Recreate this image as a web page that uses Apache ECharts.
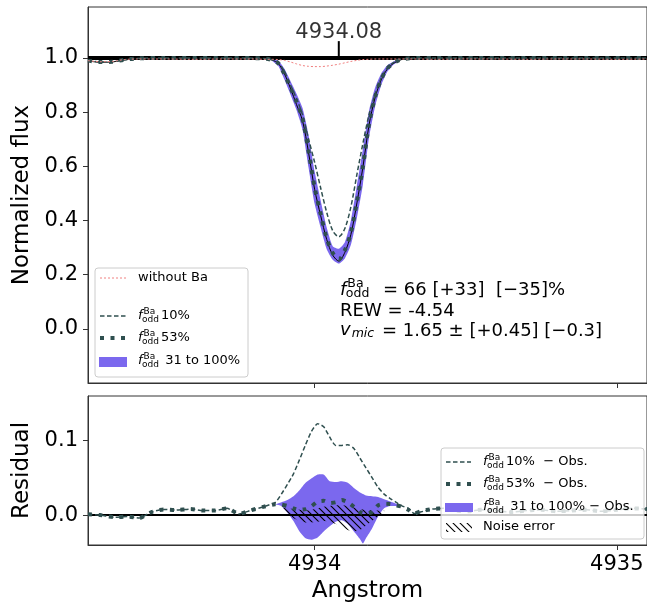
<!DOCTYPE html>
<html><head><meta charset="utf-8">
<script src="https://cdn.jsdelivr.net/npm/echarts@6/dist/echarts.min.js"></script>
<style>html,body{margin:0;padding:0;background:#fff}#c{width:647px;height:606px}</style>
</head><body><div id="c"></div>
<script>
// ---------------- data ----------------
const xRange = [4933.25, 4935.10];
const xTicks = [4934, 4935];
const fluxRange = [-0.2, 1.188];
const fluxTicks = [0, 0.2, 0.4, 0.6, 0.8, 1.0];
const residRange = [-0.04, 0.159];
const residTicks = [0, 0.1];
const continuumLevel = 1.0;
const lineCenter = 4934.08;
const lineCenterLabel = '4934.08';
const markerTick = [1.0, 1.062];
const markerLabelY = 1.094;

const lamTop = [4933.25,4933.29,4933.33,4933.37,4933.41,4933.50,4933.60,4933.70,4933.80,4933.84,
  4933.86,4933.88,4933.90,4933.92,4933.94,4933.96,4933.98,4934.00,4934.02,4934.04,4934.06,
  4934.08,4934.10,4934.12,4934.14,4934.16,4934.18,4934.20,4934.22,4934.24,4934.26,4934.28,
  4934.30,4934.34,4934.40,4934.50,4934.60,4934.70,4934.80,4934.90,4935.00,4935.10];
const obsFlux = [0.989,0.984,0.985,0.992,0.998,0.999,1.001,0.999,0.998,0.996,
  0.992,0.979,0.942,0.888,0.828,0.768,0.650,0.515,0.418,0.330,0.272,
  0.250,0.282,0.348,0.465,0.598,0.752,0.853,0.918,0.958,0.979,0.991,
  0.997,0.999,1.000,1.001,0.999,1.000,1.001,0.999,1.000,1.000];
const f10Flux = [0.990,0.985,0.986,0.993,0.998,1.000,1.000,1.000,0.999,0.997,
  0.993,0.982,0.950,0.900,0.850,0.790,0.700,0.615,0.520,0.430,0.362,
  0.340,0.370,0.450,0.570,0.685,0.790,0.865,0.925,0.962,0.982,0.993,
  0.997,1.000,1.000,1.000,1.000,1.000,1.000,1.000,1.000,1.000];
const f53Flux = [0.990,0.985,0.986,0.993,0.998,1.000,1.000,1.000,0.999,0.997,
  0.992,0.980,0.940,0.890,0.838,0.775,0.655,0.522,0.424,0.334,0.280,
  0.256,0.290,0.355,0.470,0.600,0.755,0.855,0.920,0.960,0.980,0.992,
  0.997,1.000,1.000,1.000,1.000,1.000,1.000,1.000,1.000,1.000];
const noBaFlux = [0.990,0.986,0.987,0.994,0.996,0.996,0.995,0.996,0.996,0.995,
  0.995,0.994,0.991,0.985,0.978,0.972,0.969,0.968,0.968,0.970,0.973,
  0.977,0.982,0.987,0.991,0.994,0.995,0.996,0.996,0.996,0.996,0.996,
  0.996,0.996,0.995,0.996,0.996,0.995,0.996,0.996,0.995,0.996];

const bandLam = [4933.86,4933.88,4933.90,4933.92,4933.94,4933.96,4933.98,4934.00,4934.02,4934.04,4934.06,
  4934.08,4934.10,4934.12,4934.14,4934.16,4934.18,4934.20,4934.22,4934.24,4934.26,4934.28];
const band31Flux = [0.995,0.990,0.960,0.915,0.868,0.815,0.715,0.582,0.474,0.374,0.305,
  0.296,0.320,0.400,0.530,0.665,0.805,0.890,0.942,0.972,0.986,0.994];
const band100Flux = [0.989,0.970,0.920,0.865,0.808,0.735,0.595,0.462,0.374,0.294,0.255,
  0.241,0.260,0.310,0.410,0.535,0.705,0.820,0.898,0.948,0.974,0.990];

const resLam = [4933.25,4933.29,4933.34,4933.38,4933.42,4933.46,4933.50,4933.54,4933.59,4933.63,4933.67,4933.71,4933.75,4933.79,4933.83,4933.87,
  4933.89,4933.91,4933.93,4933.95,4933.97,4933.99,4934.01,4934.03,4934.05,4934.07,4934.09,4934.11,4934.13,4934.15,4934.17,4934.19,4934.21,4934.23,4934.25,4934.27,4934.29,4934.31,4934.33,4934.35,
  4934.39,4934.43,4934.47,4934.51,4934.55,4934.60,4934.65,4934.70,4934.75,4934.80,4934.85,4934.90,4934.95,4935.00,4935.05,4935.10];
const res10 = [0.001,0.000,-0.003,-0.002,-0.004,0.004,0.0075,0.0067,0.008,0.006,0.006,0.009,0.0015,0.0065,0.011,0.017,
  0.028,0.041,0.055,0.074,0.094,0.112,0.122,0.118,0.104,0.093,0.093,0.094,0.089,0.076,0.063,0.050,0.037,0.028,0.022,0.017,0.012,0.009,0.002,0.004,
  0.008,0.009,0.006,0.005,0.007,0.006,0.004,0.006,0.007,0.005,0.006,0.007,0.005,0.007,0.009,0.008];
const res53 = [0.001,0.000,-0.003,-0.002,-0.004,0.004,0.0075,0.0067,0.008,0.006,0.006,0.009,0.0015,0.0065,0.011,0.0145,
  0.014,0.012,0.009,0.007,0.008,0.012,0.018,0.019,0.016,0.017,0.020,0.017,0.011,0.004,0.002,0.004,0.013,0.015,0.0147,0.013,0.011,0.007,0.002,0.005,
  0.008,0.009,0.006,0.005,0.007,0.006,0.004,0.006,0.007,0.005,0.006,0.007,0.005,0.007,0.009,0.008];

const resBandLam = [4933.87,4933.89,4933.91,4933.93,4933.95,4933.97,4933.99,4934.01,4934.03,4934.05,4934.07,
  4934.09,4934.11,4934.13,4934.15,4934.16,4934.17,4934.19,4934.21,4934.23,4934.25,4934.27,4934.29];
const resBandUp = [0.014,0.017,0.020,0.025,0.033,0.043,0.049,0.054,0.054,0.045,0.044,
  0.045,0.043,0.036,0.030,0.028,0.026,0.025,0.024,0.021,0.018,0.015,0.012];
const resBandLo = [0.014,0.012,0.003,-0.008,-0.022,-0.031,-0.033,-0.030,-0.022,-0.015,-0.009,
  -0.007,-0.012,-0.022,-0.032,-0.038,-0.031,-0.018,-0.002,0.009,0.012,0.012,0.012];

const noiseLam = [4933.89,4933.91,4933.93,4933.95,4933.97,4933.99,4934.01,4934.03,4934.05,4934.07,4934.09,4934.11,4934.13,4934.15,4934.17,4934.19,4934.21,4934.23];
const noiseUp = [0.010,0.009,0.008,0.007,0.006,0.007,0.009,0.011,0.012,0.013,0.013,0.012,0.010,0.008,0.007,0.006,0.006,0.006];
const noiseLo = [0.010,0.002,-0.004,-0.008,-0.010,-0.010,-0.009,-0.008,-0.009,-0.012,-0.016,-0.020,-0.022,-0.020,-0.014,-0.008,-0.002,0.004];

// ---------------- styling ----------------
const FONT = '"DejaVu Sans", sans-serif';
const SLATE = '#2f4f4f';
const PURPLE = '#7b68ee';
const PINK = '#f08080';
const FRAME = '#333';

const pair = (xs, ys) => xs.map((x, i) => [x, ys[i]]);

const hatchCanvas = document.createElement('canvas');
hatchCanvas.width = 7; hatchCanvas.height = 7;
(function () {
  const c = hatchCanvas.getContext('2d');
  c.strokeStyle = '#000'; c.lineWidth = 1.1;
  c.beginPath();
  c.moveTo(-1, -1); c.lineTo(8, 8);
  c.moveTo(-1, 6); c.lineTo(1, 8);
  c.moveTo(6, -1); c.lineTo(8, 1);
  c.stroke();
})();
const hatchFill = { image: hatchCanvas, repeat: 'repeat' };

const mctx = document.createElement('canvas').getContext('2d');
function tw(text, size, italic) {
  mctx.font = (italic ? 'italic ' : '') + size + 'px "DejaVu Sans"';
  return mctx.measureText(text).width;
}

function lineSeries(name, gi, lam, vals, ls, z, smooth) {
  return {
    type: 'line', name, xAxisIndex: gi, yAxisIndex: gi, data: pair(lam, vals),
    symbol: 'none', showSymbol: false, smooth: smooth, z, animation: false, silent: true,
    lineStyle: Object.assign({ cap: 'butt', join: 'round' }, ls)
  };
}
function bandSeries(name, gi, lam, up, lo, fill, z) {
  return {
    type: 'custom', name, xAxisIndex: gi, yAxisIndex: gi, z, clip: true, silent: true, animation: false,
    data: [[lam[0], up[0]]], encode: { x: 0, y: 1 },
    renderItem(params, api) {
      const pts = [];
      lam.forEach((l, i) => pts.push(api.coord([l, up[i]])));
      for (let i = lam.length - 1; i >= 0; i--) pts.push(api.coord([lam[i], lo[i]]));
      return { type: 'polygon', shape: { points: pts, smooth: 0.2 }, style: { fill: fill, stroke: null } };
    }
  };
}

// ---------- graphic helpers ----------
function T(x, y, text, size, italic, extra) {
  return Object.assign({ type: 'text', x, y, z: 60, silent: true,
    style: { text, fontSize: size, fontFamily: FONT, fontStyle: italic ? 'italic' : 'normal',
      fill: '#000', align: 'left', verticalAlign: 'middle' } }, extra || {});
}
function fodd(x, y, size, sub, supDy, subDy) {
  const fw = tw('f', size, true);
  const els = [T(x, y, 'f', size, true), T(x + fw + 1, y + supDy, 'Ba', sub), T(x + fw - 0.5, y + subDy, 'odd', sub)];
  const end = x + fw + Math.max(tw('Ba', sub) + 1, tw('odd', sub) - 0.5);
  return { els, end };
}
function legLine(x1, x2, y, stroke, width, dash) {
  return { type: 'line', z: 60, silent: true, shape: { x1, y1: y, x2, y2: y },
    style: { stroke, lineWidth: width, lineDash: dash, lineCap: 'butt' } };
}

const graphics = [];
// top legend
graphics.push({ type: 'rect', z: 55, silent: true, shape: { x: 95, y: 268, width: 153, height: 109, r: 3 },
  style: { fill: 'rgba(255,255,255,0.8)', stroke: '#cccccc', lineWidth: 1 } });
graphics.push(legLine(100, 127, 278, PINK, 1, [2, 2]));
graphics.push(T(138, 278, 'without Ba', 13));
graphics.push(legLine(100, 127, 316, SLATE, 1.5, [4.5, 2.5]));
let f = fodd(138, 316, 13, 9, -4, 4); graphics.push(...f.els, T(f.end + 2, 316, '10%', 13));
graphics.push(legLine(100, 127, 338, SLATE, 4, [4, 6.5]));
f = fodd(138, 338, 13, 9, -4, 4); graphics.push(...f.els, T(f.end + 2, 338, '53%', 13));
graphics.push({ type: 'rect', z: 60, silent: true, shape: { x: 99, y: 357, width: 28, height: 10 }, style: { fill: PURPLE } });
f = fodd(138, 361, 13, 9, -4, 4); graphics.push(...f.els, T(f.end + 2, 361, ' 31 to 100%', 13));

// bottom legend
graphics.push({ type: 'rect', z: 55, silent: true, shape: { x: 441, y: 448, width: 203, height: 91, r: 3 },
  style: { fill: 'rgba(255,255,255,0.8)', stroke: '#cccccc', lineWidth: 1 } });
graphics.push(legLine(446, 471, 462, SLATE, 1.5, [4.5, 2.5]));
f = fodd(483, 462, 13, 9, -4, 4); graphics.push(...f.els, T(f.end + 2, 462, '10%  \u2212 Obs.', 13));
graphics.push(legLine(446, 471, 484, SLATE, 4, [4, 6.5]));
f = fodd(483, 484, 13, 9, -4, 4); graphics.push(...f.els, T(f.end + 2, 484, '53%  \u2212 Obs.', 13));
graphics.push({ type: 'rect', z: 60, silent: true, shape: { x: 445, y: 503, width: 28, height: 9 }, style: { fill: PURPLE } });
f = fodd(483, 507, 13, 9, -4, 4); graphics.push(...f.els, T(f.end + 2, 507, ' 31 to 100% \u2212 Obs.', 13));
graphics.push({ type: 'rect', z: 60, silent: true, shape: { x: 446, y: 523, width: 26, height: 9 }, style: { fill: hatchFill } });
graphics.push(T(483, 527, 'Noise error', 13));

// annotation text
f = fodd(340, 290, 18, 12.5, -6.5, 4); graphics.push(...f.els);
graphics.push(T(383, 290, '= 66 [+33]  [\u221235]%', 18));
graphics.push(T(340, 311.5, 'REW = -4.54', 18));
const vw = tw('v', 18, true);
graphics.push(T(340, 330, 'v', 18, true), T(340 + vw + 1, 334, 'mic', 12.5, true));
graphics.push(T(382, 331, '= 1.65 \u00b1 [+0.45] [\u22120.3]', 18));

// ---------------- chart ----------------
const chart = echarts.init(document.getElementById('c'), null, { renderer: 'canvas', width: 647, height: 606 });
const tickLabel = { fontSize: 21, color: '#000', fontFamily: FONT };
const nameStyle = { fontSize: 23, color: '#000', fontFamily: FONT };

chart.setOption({
  animation: false,
  backgroundColor: '#fff',
  grid: [
    { left: 88, top: 7, width: 562, height: 376, show: true, borderColor: FRAME, borderWidth: 1, backgroundColor: 'transparent' },
    { left: 88, top: 396, width: 562, height: 149, show: true, borderColor: FRAME, borderWidth: 1, backgroundColor: 'transparent' }
  ],
  xAxis: [
    { gridIndex: 0, type: 'value', min: xRange[0], max: xRange[1],
      axisLine: { show: true, onZero: false, lineStyle: { color: FRAME } },
      axisTick: { show: true, customValues: xTicks, length: 5, lineStyle: { color: FRAME } },
      axisLabel: { show: false }, splitLine: { show: false } },
    { gridIndex: 1, type: 'value', min: xRange[0], max: xRange[1],
      axisLine: { show: true, onZero: false, lineStyle: { color: FRAME } },
      axisTick: { show: true, customValues: xTicks, length: 5, lineStyle: { color: FRAME } },
      axisLabel: Object.assign({ show: true, customValues: xTicks, margin: 9, formatter: v => String(Math.round(v)) }, tickLabel),
      splitLine: { show: false },
      name: 'Angstrom', nameLocation: 'middle', nameGap: 35, nameTextStyle: nameStyle }
  ],
  yAxis: [
    { gridIndex: 0, type: 'value', min: fluxRange[0], max: fluxRange[1],
      axisLine: { show: true, onZero: false, lineStyle: { color: FRAME } },
      axisTick: { show: true, customValues: fluxTicks, length: 5, lineStyle: { color: FRAME } },
      axisLabel: Object.assign({ customValues: fluxTicks, margin: 10, formatter: v => v.toFixed(1) }, tickLabel),
      splitLine: { show: false },
      name: 'Normalized flux', nameLocation: 'middle', nameGap: 42, nameTextStyle: nameStyle },
    { gridIndex: 1, type: 'value', min: residRange[0], max: residRange[1],
      axisLine: { show: true, onZero: false, lineStyle: { color: FRAME } },
      axisTick: { show: true, customValues: residTicks, length: 5, lineStyle: { color: FRAME } },
      axisLabel: Object.assign({ customValues: residTicks, margin: 10, formatter: v => v.toFixed(1) }, tickLabel),
      splitLine: { show: false },
      name: 'Residual', nameLocation: 'middle', nameGap: 49, nameTextStyle: nameStyle }
  ],
  series: [
    // top panel
    bandSeries('f_odd 31 to 100%', 0, bandLam, band31Flux, band100Flux, PURPLE, 2),
    {
      type: 'line', name: 'continuum', xAxisIndex: 0, yAxisIndex: 0, data: [], z: 3, silent: true,
      markLine: { silent: true, symbol: 'none', label: { show: false }, animation: false,
        lineStyle: { color: '#000', width: 4, type: 'solid' }, data: [{ yAxis: continuumLevel }] }
    },
    lineSeries('observed', 0, lamTop, obsFlux, { color: '#000', width: 1 }, 4, 0.3),
    lineSeries('f_odd 10%', 0, lamTop, f10Flux, { color: SLATE, width: 1.5, type: [4.5, 2.5] }, 5, 0.3),
    lineSeries('f_odd 53%', 0, lamTop, f53Flux, { color: SLATE, width: 4, type: [4, 6.5] }, 6, 0.3),
    lineSeries('without Ba', 0, lamTop, noBaFlux, { color: PINK, width: 1, type: [2, 2] }, 7, 0.3),
    {
      type: 'line', name: 'marker', xAxisIndex: 0, yAxisIndex: 0, z: 8, silent: true, symbol: 'none',
      data: [[lineCenter, markerTick[0]], [lineCenter, markerTick[1]]],
      lineStyle: { color: '#000', width: 2 }
    },
    {
      type: 'scatter', name: 'markerLabel', xAxisIndex: 0, yAxisIndex: 0, z: 8, silent: true, symbolSize: 0,
      data: [[lineCenter, markerLabelY]],
      label: { show: true, position: 'inside', formatter: lineCenterLabel, fontSize: 21, color: '#000', fontFamily: FONT }
    },
    // residual panel
    bandSeries('band - obs', 1, resBandLam, resBandUp, resBandLo, PURPLE, 2),
    bandSeries('noise', 1, noiseLam, noiseUp, noiseLo, hatchFill, 3),
    {
      type: 'line', name: 'zero', xAxisIndex: 1, yAxisIndex: 1, data: [], z: 4, silent: true,
      markLine: { silent: true, symbol: 'none', label: { show: false }, animation: false,
        lineStyle: { color: '#000', width: 2, type: 'solid' }, data: [{ yAxis: 0 }] }
    },
    lineSeries('10% - obs', 1, resLam, res10, { color: SLATE, width: 1.5, type: [4.5, 2.5] }, 5, 0.2),
    lineSeries('53% - obs', 1, resLam, res53, { color: SLATE, width: 4, type: [4, 6.5] }, 6, 0.2)
  ],
  graphic: graphics
});
</script>
</body></html>
